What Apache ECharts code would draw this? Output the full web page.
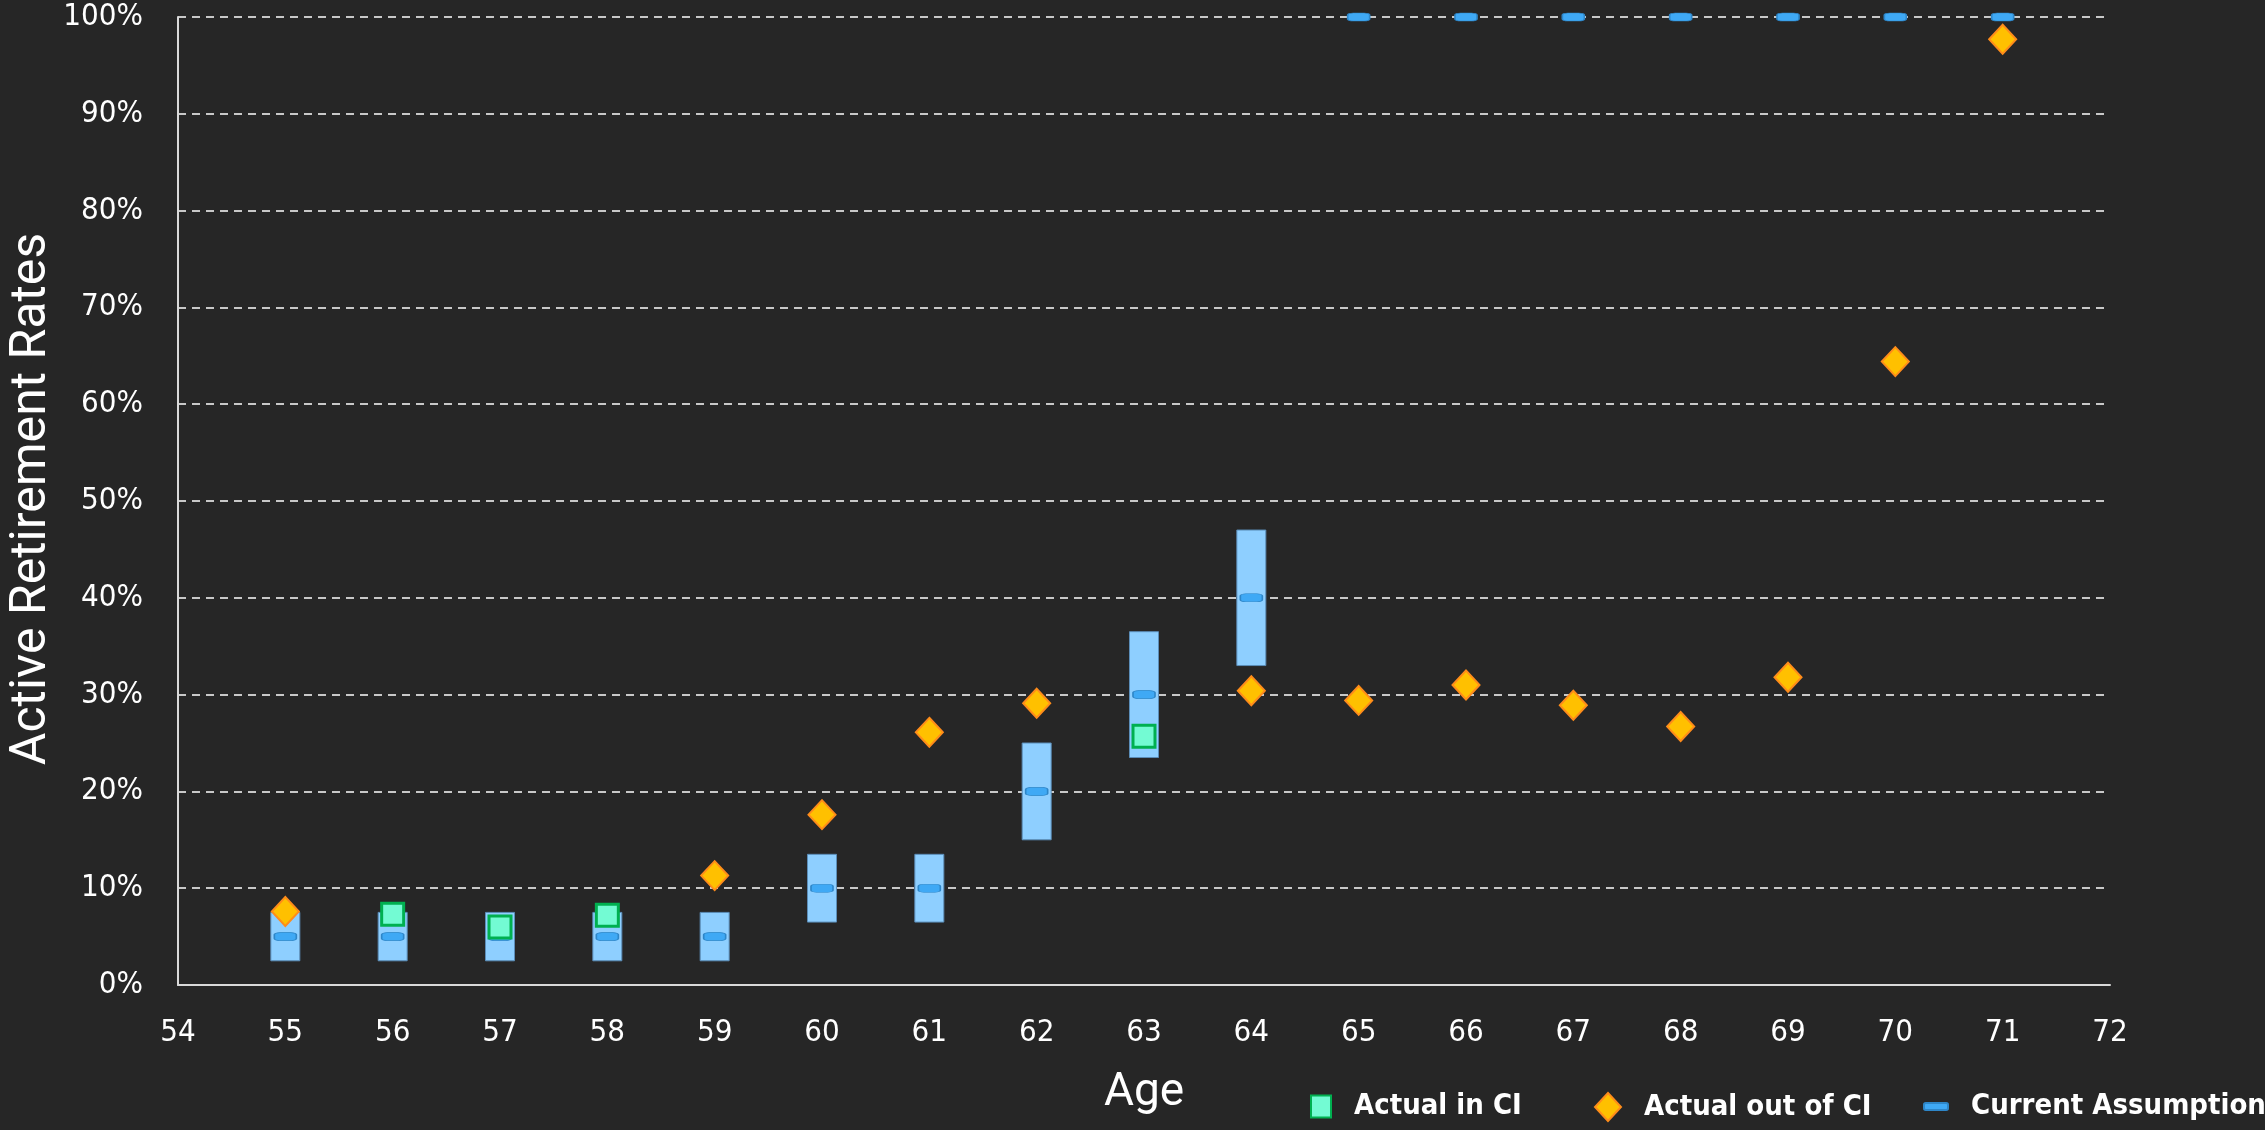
<!DOCTYPE html>
<html>
<head>
<meta charset="utf-8">
<script src="https://cdn.jsdelivr.net/npm/echarts@6/dist/echarts.min.js"></script>
<style>
html,body{margin:0;padding:0;background:#262626;}
#chart{width:2265px;height:1130px;}
</style>
</head>
<body>
<div id="chart"></div>
<script>
// ---- data ----
const ciAges = [55, 56, 57, 58, 59, 60, 61, 62, 63, 64];
const ciLow = [2.5, 2.5, 2.5, 2.5, 2.5, 6.5, 6.5, 15, 23.5, 33];
const ciHigh = [7.5, 7.5, 7.5, 7.5, 7.5, 13.5, 13.5, 25, 36.5, 47];
const assumptionAges = [55, 56, 57, 58, 59, 60, 61, 62, 63, 64, 65, 66, 67, 68, 69, 70, 71];
const assumptionValues = [5, 5, 5, 5, 5, 10, 10, 20, 30, 40, 100, 100, 100, 100, 100, 100, 100];
const inCiAges = [56, 57, 58, 63];
const inCiValues = [7.3, 6.0, 7.2, 25.7];
const outCiAges = [55, 59, 60, 61, 62, 64, 65, 66, 67, 68, 69, 70, 71];
const outCiValues = [7.6, 11.3, 17.6, 26.1, 29.1, 30.4, 29.4, 31.0, 28.9, 26.7, 31.8, 64.4, 97.7];
const seriesNames = ['Actual in CI', 'Actual out of CI', 'Current Assumption'];
const xTitle = 'Age';
const yTitle = 'Active Retirement Rates';

const condensed = '"DejaVu Sans Condensed", "Liberation Sans Narrow", sans-serif';

const chart = echarts.init(document.getElementById('chart'), null, {renderer: 'canvas'});

const ciData = ciAges.map((a, i) => [a, ciLow[i], ciHigh[i]]);

const legendText = {color: '#ffffff', fontFamily: condensed, fontWeight: 'bold', fontSize: 29, padding: [0, 0, 0, 18]};

const option = {
  backgroundColor: '#262626',
  animation: false,
  grid: {left: 178, right: 155, top: 17, bottom: 145, containLabel: false},
  xAxis: {
    type: 'value', min: 54, max: 72, interval: 1,
    name: xTitle, nameLocation: 'middle', nameGap: 85,
    nameTextStyle: {color: '#ffffff', fontFamily: 'Roboto', fontSize: 46},
    axisLine: {show: true, lineStyle: {color: '#d9d9d9', width: 2}},
    axisTick: {show: false},
    splitLine: {show: false},
    axisLabel: {color: '#ffffff', fontFamily: condensed, fontSize: 31, margin: 32}
  },
  yAxis: {
    type: 'value', min: 0, max: 100, interval: 10,
    axisLine: {show: true, lineStyle: {color: '#d9d9d9', width: 2}},
    axisTick: {show: false},
    splitLine: {show: true, lineStyle: {color: '#c8c8c8', width: 2, type: [8, 6]}},
    axisLabel: {color: '#ffffff', fontFamily: condensed, fontSize: 31, margin: 35, formatter: '{value}%'}
  },
  legend: [
    {left: 1305, top: 1087, itemWidth: 20, itemHeight: 22, textStyle: legendText,
     data: [{name: seriesNames[0], icon: 'rect'}]},
    {left: 1589, top: 1087, itemWidth: 26, itemHeight: 28, textStyle: legendText,
     data: [{name: seriesNames[1], icon: 'diamond'}]},
    {left: 1918, top: 1087, itemWidth: 24, itemHeight: 7, textStyle: legendText,
     data: [{name: seriesNames[2], icon: 'roundRect'}]}
  ],
  graphic: [{
    type: 'text', x: 32, y: 499, rotation: Math.PI / 2,
    style: {text: yTitle, fill: '#ffffff', fontFamily: 'Roboto', fontSize: 50, align: 'center', verticalAlign: 'middle'}
  }],
  series: [
    {
      name: 'CI', type: 'custom', z: 1,
      data: ciData,
      encode: {x: 0, y: [1, 2]},
      renderItem: function (params, api) {
        const lo = api.coord([api.value(0), api.value(1)]);
        const hi = api.coord([api.value(0), api.value(2)]);
        const w = 29;
        return {
          type: 'rect',
          shape: {x: lo[0] - w / 2, y: hi[1], width: w, height: lo[1] - hi[1]},
          style: {fill: '#8ECFFF', stroke: '#5B8DB8', lineWidth: 1}
        };
      }
    },
    {
      name: seriesNames[2], type: 'scatter', z: 3,
      symbol: 'roundRect', symbolSize: [22, 8],
      itemStyle: {color: '#3FA9F5', borderColor: '#2E86C8', borderWidth: 1, opacity: 1},
      data: assumptionAges.map((a, i) => [a, assumptionValues[i]])
    },
    {
      name: seriesNames[0], type: 'scatter', z: 4,
      symbol: 'rect', symbolSize: 22,
      itemStyle: {color: '#73FBD3', borderColor: '#00B050', borderWidth: 3, opacity: 1},
      data: inCiAges.map((a, i) => [a, inCiValues[i]])
    },
    {
      name: seriesNames[1], type: 'scatter', z: 4,
      symbol: 'diamond', symbolSize: [27, 29],
      itemStyle: {color: '#FFC000', borderColor: '#FF8C1A', borderWidth: 2, opacity: 1},
      data: outCiAges.map((a, i) => [a, outCiValues[i]])
    }
  ]
};
chart.setOption(option);
</script>
</body>
</html>
